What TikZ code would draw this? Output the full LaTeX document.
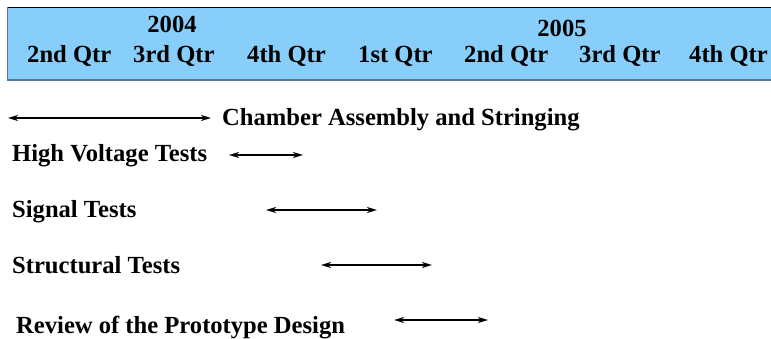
\documentclass[tikz,border=0pt]{standalone}
\usepackage{fontspec}
\setmainfont{Liberation Serif}
\usetikzlibrary{arrows.meta}
\definecolor{hdrfill}{HTML}{87CEFA}
\definecolor{hdredge}{HTML}{5B7890}
\begin{document}
\begin{tikzpicture}[x=1pt,y=-1pt,
  lbl/.style={inner sep=0pt,anchor=base west,font=\fontsize{24.6}{29}\selectfont\bfseries},
  yr/.style={inner sep=0pt,anchor=base,font=\fontsize{24.6}{29}\selectfont\bfseries},
  span/.style={line width=2pt,{Stealth[length=10pt,width=6pt,inset=3pt]}-{Stealth[length=10pt,width=6pt,inset=3pt]}}]
\useasboundingbox (0,0) rectangle (771,339);
% header band
\fill[hdrfill] (7,7) rectangle (771,80);
\draw[black,line width=1pt] (7,7.5) -- (771,7.5);
\draw[hdredge,line width=1pt] (7.5,7) -- (7.5,80);
\draw[hdredge,line width=2pt] (7,80) -- (771,80);
% years
\node[yr] (y2004) at (172,33) {2004};
\node[yr] (y2005) at (562,37) {2005};
% quarters
\node[lbl] (q1) at (27,63) {2nd Qtr};
\node[lbl] (q2) at (133,63) {3rd Qtr};
\node[lbl] (q3) at (247,63) {4th Qtr};
\node[lbl] (q4) at (358,63) {1st Qtr};
\node[lbl] (q5) at (464,63) {2nd Qtr};
\node[lbl] (q6) at (579,63) {3rd Qtr};
\node[lbl] (q7) at (689,63) {4th Qtr};
% tasks
\node[lbl] (t1) at (222,126) {Chamber Assembly and Stringing};
\node[lbl] (t2) at (12,162) {High Voltage Tests};
\node[lbl] (t3) at (12,218) {Signal Tests};
\node[lbl] (t4) at (12,273) {Structural Tests};
\node[lbl] (t5) at (16,333) {Review of the Prototype Design};
% spans
\coordinate (a1s) at (8,118); \coordinate (a1e) at (211,118);
\coordinate (a2s) at (229,155); \coordinate (a2e) at (303,155);
\coordinate (a3s) at (266,210); \coordinate (a3e) at (377,210);
\coordinate (a4s) at (321,265); \coordinate (a4e) at (432,265);
\coordinate (a5s) at (394,320); \coordinate (a5e) at (488,320);
\draw[span] (a1s) -- (a1e);
\draw[span] (a2s) -- (a2e);
\draw[span] (a3s) -- (a3e);
\draw[span] (a4s) -- (a4e);
\draw[span] (a5s) -- (a5e);
\end{tikzpicture}
\end{document}
